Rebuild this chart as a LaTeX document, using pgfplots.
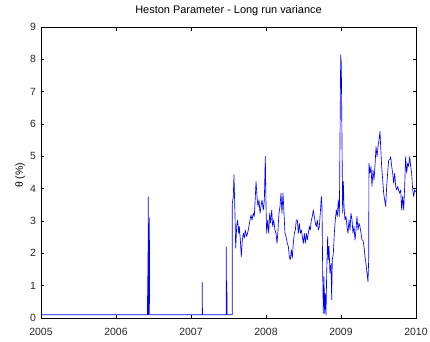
\documentclass[border=0pt]{standalone}
\usepackage{pgfplots}
\pgfplotsset{compat=1.18}
\usepackage{fontspec}
\setmainfont{Liberation Sans}
\pgfplotstableread{
year val
2005.000 0.1
2006.420 0.1
2006.422 1.3
2006.425 0.1
2006.430 3.75
2006.433 0.1
2006.445 3.1
2006.448 0.1
2007.148 0.1
2007.150 1.1
2007.153 0.1
2007.468 0.1
2007.470 2.2
2007.473 0.1
2007.478 1.15
2007.481 0.1
2007.550 0.1
2007.551 3.55
2007.564 3.76
2007.573 4.43
2007.587 3.14
2007.596 2.16
2007.609 2.83
2007.622 3.03
2007.636 2.62
2007.644 2.83
2007.658 2.41
2007.671 1.90
2007.684 2.41
2007.698 2.62
2007.711 2.47
2007.724 2.72
2007.742 2.52
2007.764 2.72
2007.787 3.03
2007.800 3.19
2007.813 3.03
2007.831 3.24
2007.844 3.14
2007.858 3.76
2007.867 4.22
2007.880 3.76
2007.893 3.45
2007.907 3.65
2007.920 3.24
2007.933 3.45
2007.947 3.65
2007.964 3.34
2007.978 3.65
2007.991 5.00
2008.000 3.45
2008.009 2.62
2008.022 3.03
2008.036 2.62
2008.049 3.24
2008.062 2.93
2008.076 3.34
2008.089 2.83
2008.102 3.03
2008.120 2.72
2008.133 2.62
2008.147 2.31
2008.160 2.72
2008.173 3.24
2008.187 3.45
2008.200 3.86
2008.213 3.24
2008.227 3.86
2008.240 3.24
2008.253 2.62
2008.267 2.52
2008.284 2.31
2008.298 2.21
2008.311 1.90
2008.324 1.80
2008.338 2.11
2008.351 1.85
2008.364 2.31
2008.378 2.62
2008.391 2.72
2008.404 3.03
2008.418 3.03
2008.431 2.62
2008.444 2.93
2008.458 2.62
2008.471 2.72
2008.484 2.52
2008.498 2.31
2008.511 2.62
2008.524 2.31
2008.538 2.62
2008.551 2.41
2008.564 2.62
2008.578 2.83
2008.591 2.72
2008.604 3.03
2008.618 3.14
2008.631 3.34
2008.644 3.14
2008.658 2.93
2008.671 2.83
2008.684 3.03
2008.698 2.72
2008.711 2.83
2008.724 3.24
2008.738 3.76
2008.747 3.45
2008.756 1.38
2008.764 0.14
2008.773 1.28
2008.782 0.14
2008.791 0.76
2008.800 0.09
2008.809 1.38
2008.822 2.52
2008.831 1.80
2008.840 2.21
2008.853 1.38
2008.867 1.69
2008.876 0.56
2008.884 1.80
2008.898 2.00
2008.911 2.62
2008.924 3.03
2008.938 3.34
2008.951 3.14
2008.964 3.65
2008.978 3.14
2008.987 5.56
2008.996 8.14
2009.004 7.88
2009.013 5.56
2009.022 3.24
2009.031 4.22
2009.040 3.45
2009.053 3.03
2009.067 3.14
2009.080 2.83
2009.093 2.62
2009.107 3.03
2009.120 2.72
2009.133 3.24
2009.147 3.03
2009.160 2.62
2009.173 2.83
2009.187 2.41
2009.200 2.72
2009.213 3.14
2009.227 2.72
2009.240 2.93
2009.253 2.83
2009.267 2.62
2009.280 2.41
2009.293 2.41
2009.307 2.21
2009.320 1.90
2009.333 1.69
2009.347 1.38
2009.360 1.12
2009.369 1.80
2009.373 4.79
2009.387 4.48
2009.400 4.69
2009.413 4.07
2009.427 4.58
2009.440 4.27
2009.453 4.69
2009.467 5.30
2009.480 4.99
2009.493 5.30
2009.507 5.51
2009.520 5.77
2009.529 5.30
2009.542 4.69
2009.556 4.27
2009.569 3.86
2009.582 3.65
2009.596 3.45
2009.609 4.07
2009.622 4.48
2009.636 4.89
2009.649 4.89
2009.662 4.99
2009.676 4.69
2009.689 4.48
2009.702 4.17
2009.716 4.48
2009.729 4.07
2009.742 3.96
2009.756 4.07
2009.769 3.96
2009.782 3.86
2009.796 3.96
2009.809 3.34
2009.822 3.76
2009.836 3.34
2009.849 4.07
2009.862 4.99
2009.876 4.48
2009.889 4.79
2009.902 4.69
2009.916 4.99
2009.929 4.69
2009.942 4.48
2009.956 3.96
2009.969 3.76
2009.982 3.96
2009.996 3.90
}\thetadata
\begin{document}
\begin{tikzpicture}
\useasboundingbox (-41bp,-24bp) rectangle (389bp,318bp);
\begin{axis}[
  at={(0,0)}, anchor=south west,
  scale only axis,
  width=375bp, height=291bp,
  xmin=2005, xmax=2010, ymin=0, ymax=9,
  xtick={2005,2006,2007,2008,2009,2010},
  ytick={0,1,2,3,4,5,6,7,8,9},
  /pgf/number format/1000 sep={},
  /pgf/number format/assume math mode=true,
  tick align=inside,
  major tick length=3.5bp,
  tick style={black, line width=0.4pt},
  axis line style={black, line width=0.5pt},
  ticklabel style={font=\fontsize{10.5}{12}\selectfont, text=black!85},
  xticklabel style={anchor=base, yshift=-17bp},
  yticklabel style={anchor=east, xshift=-1.5bp},
  title={Heston Parameter - Long run variance},
  title style={font=\fontsize{11}{13}\selectfont, at={(axis description cs:0.5,1)}, anchor=base, yshift=7.4bp},
  ylabel={θ (\%)},
  ylabel style={font=\fontsize{10.5}{12}\selectfont, at={(axis description cs:-0.0555,0.49)}, anchor=center},
]
\addplot[blue, line width=0.65pt, line join=round] table[x=year, y=val] {\thetadata};
\end{axis}
\end{tikzpicture}
\end{document}
